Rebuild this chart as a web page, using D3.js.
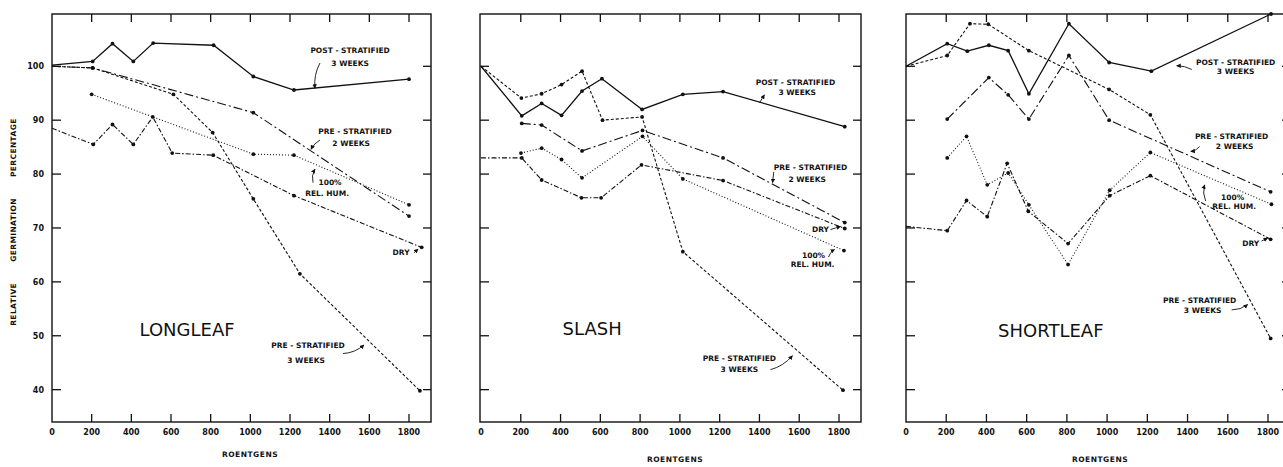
<!DOCTYPE html>
<html>
<head>
<meta charset="utf-8">
<script src="https://cdn.jsdelivr.net/npm/d3@7"></script>
<style>
    body { margin: 0; background: #fff; }
    text { font-family: "DejaVu Sans", sans-serif; fill: #111; }
    .tick-label { font-size: 8px; font-weight: bold; }
    .note { font-size: 7.5px; font-weight: bold; }
    .species { font-size: 18px; }
</style>
</head>
<body>
<div id="chart"></div>
<script>

/* x ticks (roentgens) and y ticks (relative germination %) */
const xTicks = [0, 200, 400, 600, 800, 1000, 1200, 1400, 1600, 1800];
const yTicks = [40, 50, 60, 70, 80, 90, 100];

/* LONGLEAF  [roentgens, percent] */
const longleafPost = [[0,100.2],[205,100.9],[305,104.2],[410,100.9],[510,104.3],[815,103.9],[1015,98.1],[1220,95.6],[1800,97.6]];
const longleafPre3 = [[0,100],[205,99.7],[612,94.8],[810,87.7],[1015,75.4],[1250,61.5],[1855,39.8]];
const longleafPre2 = [[0,100],[205,99.7],[1015,91.4],[1800,72.2]];
const longleafHum  = [[200,94.8],[1015,83.7],[1220,83.5],[1800,74.3]];
const longleafDry  = [[0,88.5],[208,85.5],[305,89.2],[410,85.5],[508,90.6],[606,83.9],[813,83.5],[1220,76.0],[1864,66.4]];

/* SLASH */
const slashPost = [[0,100],[205,90.8],[305,93.1],[405,90.9],[508,95.4],[608,97.7],[810,92.0],[1015,94.8],[1217,95.3],[1829,88.8]];
const slashPre3 = [[0,100],[203,94.1],[305,94.9],[405,96.6],[508,99.1],[611,90.0],[810,90.6],[1015,65.6],[1820,39.9]];
const slashPre2 = [[205,89.4],[305,89.1],[508,84.3],[812,88.1],[1217,83.0],[1829,71.0]];
const slashHum  = [[201,83.9],[305,84.8],[405,82.7],[508,79.3],[812,87.0],[1015,79.1],[1825,65.8]];
const slashDry  = [[0,83.0],[205,83.0],[305,78.9],[505,75.6],[604,75.6],[807,81.7],[1217,78.8],[1829,69.9]];

/* SHORTLEAF */
const shortleafPost = [[0,100],[205,104.2],[305,102.8],[412,103.9],[508,102.9],[611,94.9],[810,107.9],[1010,100.7],[1220,99.1],[1815,109.7]];
const shortleafPre3 = [[0,100],[205,102.0],[318,107.9],[409,107.8],[611,102.9],[1010,95.7],[1215,91.0],[1813,49.5]];
const shortleafPre2 = [[205,90.2],[412,97.9],[508,94.7],[611,90.2],[810,102.0],[1010,90.0],[1813,76.7]];
const shortleafHum  = [[205,83.0],[301,87.0],[404,78.0],[508,80.2],[611,74.3],[806,63.2],[1013,77.0],[1215,84.0],[1817,74.4]];
const shortleafDry  = [[0,70.3],[205,69.5],[301,75.1],[404,72.1],[503,82.0],[608,73.1],[806,67.1],[1013,76.0],[1215,79.7],[1813,67.9]];

/* labels: text lines and arrows, in data units */
const longleafNotes = [
    {t: "POST - STRATIFIED", r: 1503, v: 102.4}, {t: "3 WEEKS", r: 1503, v: 100.0},
    {t: "PRE - STRATIFIED", r: 1528, v: 87.4}, {t: "2 WEEKS", r: 1508, v: 85.2},
    {t: "100%", r: 1402, v: 78.0}, {t: "REL. HUM.", r: 1387, v: 75.9},
    {t: "DRY", r: 1760, v: 65.0},
    {t: "PRE - STRATIFIED", r: 1291, v: 47.8}, {t: "3 WEEKS", r: 1281, v: 45.0}
];
const longleafArrows = [[1351,100.6,1326,95.9,4],[1351,86.3,1306,84.6,2],[1316,78.4,1326,80.9,-3],[1825,65.4,1846,66.1,0],[1467,46.7,1573,48.3,4]];

const slashNotes = [
    {t: "POST - STRATIFIED", r: 1581, v: 96.6}, {t: "3 WEEKS", r: 1590, v: 94.6},
    {t: "PRE - STRATIFIED", r: 1657, v: 80.8}, {t: "2 WEEKS", r: 1640, v: 78.6},
    {t: "DRY", r: 1707, v: 69.3},
    {t: "100%", r: 1672, v: 64.5}, {t: "REL. HUM.", r: 1667, v: 62.7},
    {t: "PRE - STRATIFIED", r: 1299, v: 45.4}, {t: "3 WEEKS", r: 1299, v: 43.2}
];
const slashArrows = [[1400,93.2,1425,94.7,0],[1472,80.4,1466,78.4,0],[1757,69.7,1808,70.3,0],[1747,64.6,1778,66.0,-2],[1455,43.7,1566,46.3,4]];

const shortleafNotes = [
    {t: "POST - STRATIFIED", r: 1639, v: 100.3}, {t: "3 WEEKS", r: 1639, v: 98.5},
    {t: "PRE - STRATIFIED", r: 1619, v: 86.5}, {t: "2 WEEKS", r: 1634, v: 84.7},
    {t: "100%", r: 1624, v: 75.1}, {t: "REL. HUM.", r: 1632, v: 73.6},
    {t: "DRY", r: 1714, v: 66.7},
    {t: "PRE - STRATIFIED", r: 1460, v: 56.1}, {t: "3 WEEKS", r: 1475, v: 54.2}
];
const shortleafArrows = [[1421,99.4,1346,100.1,2],[1460,85.1,1416,84.2,-2],[1490,75.0,1485,78.0,-3],[1768,67.6,1798,68.1,0],[1619,54.8,1699,55.8,3]];

const seriesKeys = ["post", "pre3", "pre2", "hum", "dry"];
const dashes = {post: null, pre3: "3,2", pre2: "9,3,2,3", hum: "1,2", dry: "5,2,1.5,2"};

const panels = [
    {name: "LONGLEAF", left: 52, right: 431, x0: 52, x1: 409, nameAt: [681, 50], labelsY: true,
        data: [longleafPost, longleafPre3, longleafPre2, longleafHum, longleafDry], notes: longleafNotes, arrows: longleafArrows, titleX: 250},
    {name: "SLASH", left: 480, right: 861, x0: 481, x1: 839, nameAt: [559, 50.2], labelsY: false,
        data: [slashPost, slashPre3, slashPre2, slashHum, slashDry], notes: slashNotes, arrows: slashArrows, titleX: 675},
    {name: "SHORTLEAF", left: 906, right: 1290, x0: 906, x1: 1268, nameAt: [720, 49.8], labelsY: false,
        data: [shortleafPost, shortleafPre3, shortleafPre2, shortleafHum, shortleafDry], notes: shortleafNotes, arrows: shortleafArrows, titleX: 1100}
];

const chartWidth = 1283, chartHeight = 467;
const plotTop = 14, plotBottom = 422;

const svg = d3.select("#chart")
    .append("svg")
    .attr("width", chartWidth)
    .attr("height", chartHeight);

svg.append("defs").append("marker")
    .attr("id", "head")
    .attr("viewBox", "0 0 10 10")
    .attr("refX", 9).attr("refY", 5)
    .attr("markerWidth", 5).attr("markerHeight", 5)
    .attr("orient", "auto")
    .append("path")
    .attr("d", "M0,0 L10,5 L0,10 z")
    .attr("fill", "#111");

const yScale = d3.scaleLinear()
    .domain([34, 109.7])
    .range([plotBottom, plotTop]);

/* y-axis title */
svg.append("text")
    .attr("transform", "translate(16,222) rotate(-90)")
    .attr("text-anchor", "middle")
    .style("font-size", "7.5px")
    .style("font-weight", "bold")
    .style("letter-spacing", "0.4px")
    .style("word-spacing", "18px")
    .text("RELATIVE GERMINATION PERCENTAGE");

panels.forEach(function (p) {

    const xScale = d3.scaleLinear()
        .domain([0, 1800])
        .range([p.x0, p.x1]);

    const g = svg.append("g");

    // frame
    g.append("rect")
        .attr("x", p.left)
        .attr("y", plotTop)
        .attr("width", p.right - p.left)
        .attr("height", plotBottom - plotTop)
        .attr("fill", "none")
        .attr("stroke", "#111")
        .attr("stroke-width", 1.4);

    // ticks top / bottom
    const xt = xTicks.filter(function (d) { return d > 0; });
    g.selectAll(".tt").data(xt).enter().append("line")
        .attr("x1", function (d) { return xScale(d); })
        .attr("x2", function (d) { return xScale(d); })
        .attr("y1", plotTop).attr("y2", plotTop + 8)
        .attr("stroke", "#111").attr("stroke-width", 1.3);
    g.selectAll(".tb").data(xt).enter().append("line")
        .attr("x1", function (d) { return xScale(d); })
        .attr("x2", function (d) { return xScale(d); })
        .attr("y1", plotBottom).attr("y2", plotBottom - 8)
        .attr("stroke", "#111").attr("stroke-width", 1.3);

    // ticks left / right
    g.selectAll(".tl").data(yTicks).enter().append("line")
        .attr("x1", p.left).attr("x2", p.left + 9)
        .attr("y1", function (d) { return yScale(d); })
        .attr("y2", function (d) { return yScale(d); })
        .attr("stroke", "#111").attr("stroke-width", 1.3);
    g.selectAll(".tr").data(yTicks).enter().append("line")
        .attr("x1", p.right).attr("x2", p.right - 8)
        .attr("y1", function (d) { return yScale(d); })
        .attr("y2", function (d) { return yScale(d); })
        .attr("stroke", "#111").attr("stroke-width", 1.3);

    // tick labels
    g.selectAll(".xl").data(xTicks).enter().append("text")
        .attr("class", "tick-label")
        .attr("x", function (d) { return xScale(d); })
        .attr("y", plotBottom + 13)
        .attr("text-anchor", "middle")
        .text(function (d) { return d; });

    if (p.labelsY) {
        g.selectAll(".yl").data(yTicks).enter().append("text")
            .attr("class", "tick-label")
            .attr("x", p.left - 8)
            .attr("y", function (d) { return yScale(d) + 3; })
            .attr("text-anchor", "end")
            .text(function (d) { return d; });
    }

    g.append("text")
        .attr("class", "tick-label")
        .attr("x", p.titleX)
        .attr("y", plotBottom + 35 + (p.labelsY ? 0 : 5))
        .attr("text-anchor", "middle")
        .style("font-size", "7.5px")
        .style("letter-spacing", "0.5px")
        .text("ROENTGENS");

    // lines
    const line = d3.line()
        .x(function (d) { return xScale(d[0]); })
        .y(function (d) { return yScale(d[1]); });

    p.data.forEach(function (series, i) {
        const key = seriesKeys[i];
        g.append("path")
            .attr("d", line(series))
            .attr("fill", "none")
            .attr("stroke", "#111")
            .attr("stroke-width", key === "post" ? 1.3 : 1.1)
            .attr("stroke-dasharray", dashes[key]);

        g.selectAll(".dot-" + key)
            .data(series.filter(function (d) { return d[0] > 0; }))
            .enter()
            .append("circle")
            .attr("cx", function (d) { return xScale(d[0]); })
            .attr("cy", function (d) { return yScale(d[1]); })
            .attr("r", 1.9)
            .attr("fill", "#111");
    });

    // species name
    g.append("text")
        .attr("class", "species")
        .attr("x", xScale(p.nameAt[0]))
        .attr("y", yScale(p.nameAt[1]))
        .attr("text-anchor", "middle")
        .text(p.name);

    // notes
    g.selectAll(".note").data(p.notes).enter().append("text")
        .attr("class", "note")
        .attr("x", function (d) { return xScale(d.r); })
        .attr("y", function (d) { return yScale(d.v); })
        .attr("text-anchor", "middle")
        .text(function (d) { return d.t; });

    // arrows
    g.selectAll(".arrow").data(p.arrows).enter().append("path")
        .attr("d", function (a) {
            const x0 = xScale(a[0]), y0 = yScale(a[1]);
            const x1 = xScale(a[2]), y1 = yScale(a[3]);
            const dx = x1 - x0, dy = y1 - y0;
            const len = Math.sqrt(dx * dx + dy * dy) || 1;
            const cx = (x0 + x1) / 2 - dy / len * a[4];
            const cy = (y0 + y1) / 2 + dx / len * a[4];
            return "M" + x0 + "," + y0 + " Q" + cx + "," + cy + " " + x1 + "," + y1;
        })
        .attr("fill", "none")
        .attr("stroke", "#111")
        .attr("stroke-width", 0.9)
        .attr("marker-end", "url(#head)");
});

</script>
</body>
</html>
